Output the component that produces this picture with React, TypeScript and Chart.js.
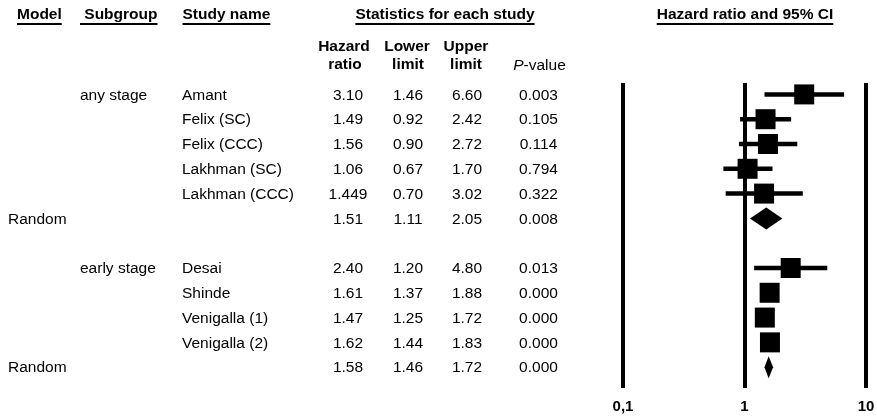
import { useEffect, useRef } from "react";
import { Chart, registerables } from "chart.js";

Chart.register(...registerables);

// ---- data ----
const studyNames = [
  "Amant",
  "Felix (SC)",
  "Felix (CCC)",
  "Lakhman (SC)",
  "Lakhman (CCC)",
  "Desai",
  "Shinde",
  "Venigalla (1)",
  "Venigalla (2)",
];
const studyRows = [0, 1, 2, 3, 4, 7, 8, 9, 10];
const hrText = ["3.10", "1.49", "1.56", "1.06", "1.449", "2.40", "1.61", "1.47", "1.62"];
const lowerText = ["1.46", "0.92", "0.90", "0.67", "0.70", "1.20", "1.37", "1.25", "1.44"];
const upperText = ["6.60", "2.42", "2.72", "1.70", "3.02", "4.80", "1.88", "1.72", "1.83"];
const pText = ["0.003", "0.105", "0.114", "0.794", "0.322", "0.013", "0.000", "0.000", "0.000"];

const subgroupNames = ["any stage", "early stage"];
const subgroupRows = [0, 7];

const summaryNames = ["Random", "Random"];
const summaryRows = [5, 11];
const summaryHrText = ["1.51", "1.58"];
const summaryLowerText = ["1.11", "1.46"];
const summaryUpperText = ["2.05", "1.72"];
const summaryPText = ["0.008", "0.000"];

const tickValues = [0.1, 1, 10];
const tickLabels = ["0,1", "1", "10"];

const FONT = '"Liberation Sans", Arial, Helvetica, sans-serif';

export default function App() {
  const ref = useRef<HTMLCanvasElement>(null);

  useEffect(() => {
    const canvas = ref.current;
    if (!canvas) return;

    const hr = hrText.map(Number);
    const lower = lowerText.map(Number);
    const upper = upperText.map(Number);
    const sHr = summaryHrText.map(Number);
    const sLower = summaryLowerText.map(Number);
    const sUpper = summaryUpperText.map(Number);

    const forestPlugin = {
      id: "forestPlugin",
      beforeDatasetsDraw(chart: any) {
        const xs = chart.scales.x;
        const ys = chart.scales.y;
        const ctx = chart.ctx as CanvasRenderingContext2D;
        ctx.save();
        ctx.strokeStyle = "#000";
        ctx.fillStyle = "#000";
        ctx.lineWidth = 4.5;
        ctx.lineCap = "butt";
        for (let i = 0; i < hr.length; i++) {
          const py = ys.getPixelForValue(studyRows[i]);
          ctx.beginPath();
          ctx.moveTo(xs.getPixelForValue(lower[i]), py);
          ctx.lineTo(xs.getPixelForValue(upper[i]), py);
          ctx.stroke();
        }
        for (let i = 0; i < sHr.length; i++) {
          const py = ys.getPixelForValue(summaryRows[i]);
          const half = 11;
          ctx.beginPath();
          ctx.moveTo(xs.getPixelForValue(sLower[i]), py);
          ctx.lineTo(xs.getPixelForValue(sHr[i]), py - half);
          ctx.lineTo(xs.getPixelForValue(sUpper[i]), py);
          ctx.lineTo(xs.getPixelForValue(sHr[i]), py + half);
          ctx.closePath();
          ctx.fill();
        }
        ctx.restore();
      },
      afterDraw(chart: any) {
        const ys = chart.scales.y;
        const ctx = chart.ctx as CanvasRenderingContext2D;
        ctx.save();
        ctx.fillStyle = "#000";
        ctx.textBaseline = "middle";
        const bold = `bold 15.5px ${FONT}`;
        const reg = `15.5px ${FONT}`;

        // top headers with underline
        const header = (t: string, x: number, align: "left" | "center") => {
          ctx.font = bold;
          ctx.textAlign = "left";
          const w = ctx.measureText(t).width;
          const left = align === "center" ? x - w / 2 : x;
          ctx.fillText(t, left, 14.5);
          ctx.fillRect(left, 23, w, 2);
        };
        header("Model", 17, "left");
        header(" Subgroup", 80, "left");
        header("Study name", 182.5, "left");
        header("Statistics for each study", 445, "center");
        header("Hazard ratio and 95% CI", 745, "center");

        // column sub-headers
        ctx.font = bold;
        ctx.textAlign = "center";
        ctx.fillText("Hazard", 344, 46.5);
        ctx.fillText("ratio", 345, 64.5);
        ctx.fillText("Lower", 407, 46.5);
        ctx.fillText("limit", 408, 64.5);
        ctx.fillText("Upper", 466, 46.5);
        ctx.fillText("limit", 466, 64.5);

        // P-value with italic P
        ctx.textAlign = "left";
        ctx.font = `italic ${reg}`;
        const wP = ctx.measureText("P").width;
        ctx.font = reg;
        const wRest = ctx.measureText("-value").width;
        const startP = 539.5 - (wP + wRest) / 2;
        ctx.font = `italic ${reg}`;
        ctx.fillText("P", startP, 65.5);
        ctx.font = reg;
        ctx.fillText("-value", startP + wP, 65.5);

        const rowY = (r: number) => ys.getPixelForValue(r) + 1;

        // subgroups
        ctx.font = reg;
        ctx.textAlign = "left";
        subgroupNames.forEach((s, i) => ctx.fillText(s, 80, rowY(subgroupRows[i])));

        // studies
        studyNames.forEach((s, i) => {
          const py = rowY(studyRows[i]);
          ctx.textAlign = "left";
          ctx.fillText(s, 182, py);
          ctx.textAlign = "center";
          ctx.fillText(hrText[i], 348, py);
          ctx.fillText(lowerText[i], 408, py);
          ctx.fillText(upperText[i], 467, py);
          ctx.fillText(pText[i], 538.5, py);
        });

        // summaries
        summaryNames.forEach((s, i) => {
          const py = rowY(summaryRows[i]);
          ctx.textAlign = "left";
          ctx.fillText(s, 8, py);
          ctx.textAlign = "center";
          ctx.fillText(summaryHrText[i], 348, py);
          ctx.fillText(summaryLowerText[i], 408, py);
          ctx.fillText(summaryUpperText[i], 467, py);
          ctx.fillText(summaryPText[i], 538.5, py);
        });
        ctx.restore();
      },
    };

    const chart = new Chart(canvas, {
      type: "scatter",
      data: {
        datasets: [
          {
            data: hr.map((v, i) => ({ x: v, y: studyRows[i] })),
            pointStyle: "rect",
            pointRadius: 14.14,
            pointHoverRadius: 14.14,
            backgroundColor: "#000",
            borderColor: "#000",
            borderWidth: 0,
          },
        ],
      },
      options: {
        responsive: true,
        maintainAspectRatio: false,
        animation: false,
        events: [],
        layout: {
          autoPadding: false,
          padding: { left: 623, right: 11, top: 83, bottom: 4 },
        },
        plugins: {
          legend: { display: false },
          tooltip: { enabled: false },
        },
        scales: {
          x: {
            type: "logarithmic",
            min: 0.1,
            max: 10,
            afterBuildTicks: (scale: any) => {
              scale.ticks = tickValues.map((v) => ({ value: v }));
            },
            afterFit: (scale: any) => {
              scale.height = 28;
              scale.paddingLeft = 0;
              scale.paddingRight = 0;
            },
            ticks: {
              autoSkip: false,
              maxRotation: 0,
              padding: 10,
              color: "#000",
              font: { family: FONT, size: 15, weight: "bold", lineHeight: 1.2 },
              callback: (_v: any, idx: number) => tickLabels[idx],
            },
            grid: { color: "#000", lineWidth: 4, drawTicks: false },
            border: { display: false },
          },
          y: {
            type: "linear",
            min: -0.46,
            max: 11.84,
            reverse: true,
            display: false,
          },
        },
      },
      plugins: [forestPlugin],
    } as any);

    return () => chart.destroy();
  }, []);

  return (
    <div
      style={{
        position: "absolute",
        left: 0,
        top: 0,
        width: 877,
        height: 420,
        background: "#fff",
      }}
    >
      <canvas ref={ref} />
    </div>
  );
}
